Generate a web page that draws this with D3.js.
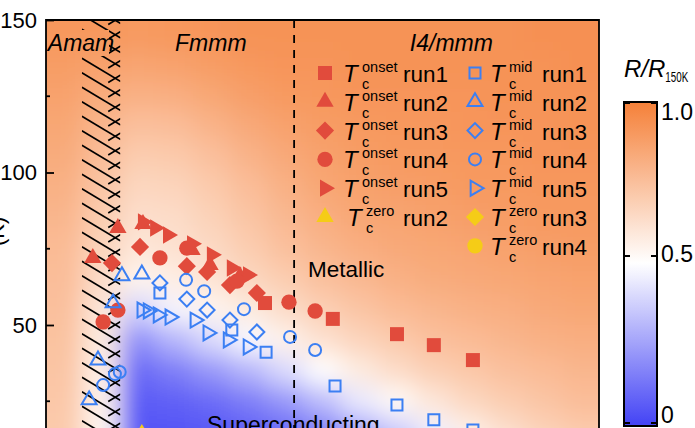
<!DOCTYPE html>
<html>
<head>
<meta charset="utf-8">
<script src="https://cdn.jsdelivr.net/npm/d3@7"></script>
<style>
  body { margin: 0; background: #fff; }
  svg { display: block; font-family: "Liberation Sans", Arial, sans-serif; }
</style>
</head>
<body>
<div id="chart"></div>
<script>
// Tc points, [x, T(K)]
var onsetRun1 = [[5.94,57.2],[7.78,52.0],[9.52,47.0],[10.52,43.4],[11.58,38.5]];
var onsetRun2 = [[1.27,72.0],[1.95,81.8],[2.63,83.1],[3.96,74.6],[4.45,69.7],[5.26,66.1]];
var onsetRun3 = [[1.79,70.3],[2.55,75.6],[3.82,69.3],[4.37,67.4],[4.99,63.1],[5.72,60.5]];
var onsetRun4 = [[1.55,51.0],[1.95,54.9],[3.09,72.0],[3.82,75.2],[5.18,64.4],[6.59,57.5],[7.30,54.6]];
var onsetRun5 = [[2.63,83.8],[2.96,81.8],[3.31,79.5],[3.96,76.6],[4.50,73.0],[5.04,68.7],[5.48,66.4]];

var midRun1 = [[3.09,60.5],[5.04,48.4],[5.97,41.1],[7.84,30.0],[9.52,23.8],[10.52,18.9],[11.58,15.6]];
var midRun2 = [[2.06,66.1],[2.60,66.7],[1.82,57.2],[1.41,38.5],[1.17,25.4]];
var midRun3 = [[3.09,63.8],[3.82,58.5],[4.37,54.9],[4.99,51.6],[5.72,47.7]];
var midRun4 = [[3.80,64.8],[4.29,61.1],[5.37,55.2],[6.62,46.1],[7.30,41.8],[1.55,30.3],[1.87,33.9],[2.00,34.6]];
var midRun5 = [[2.60,54.9],[2.77,54.6],[3.04,53.3],[3.36,52.6],[4.04,51.6],[4.39,47.4],[4.94,45.1],[5.48,42.8]];

var zeroRun2 = [[2.60,14.3]];
var zeroRun3 = [];
var zeroRun4 = [];

// R/R150K map: rows are 10 K bands (top first), columns are 1-unit x bands
var xBands = [0,1,2,3,4,5,6,7,8,9,10,11,12,13,14];
var tBands = [140,130,120,110,100,90,80,70,60,50,40,30,20,10,0];
var rRatio = [
  [0.91,0.91,0.90,0.91,0.92,0.93,0.93,0.93,0.93,0.93,0.93,0.93,0.93,0.94,0.94],
  [0.89,0.87,0.86,0.87,0.89,0.91,0.92,0.92,0.93,0.93,0.93,0.93,0.93,0.93,0.94],
  [0.87,0.83,0.81,0.82,0.85,0.88,0.90,0.91,0.92,0.92,0.92,0.92,0.93,0.93,0.93],
  [0.85,0.79,0.75,0.76,0.80,0.84,0.87,0.89,0.90,0.91,0.91,0.92,0.92,0.92,0.93],
  [0.83,0.76,0.70,0.71,0.75,0.80,0.84,0.87,0.89,0.90,0.90,0.91,0.91,0.92,0.92],
  [0.81,0.73,0.66,0.67,0.71,0.76,0.81,0.85,0.87,0.88,0.89,0.90,0.90,0.91,0.91],
  [0.79,0.70,0.63,0.64,0.68,0.73,0.78,0.82,0.85,0.86,0.87,0.88,0.89,0.90,0.90],
  [0.77,0.67,0.60,0.62,0.65,0.70,0.75,0.79,0.82,0.84,0.85,0.86,0.87,0.88,0.89],
  [0.76,0.64,0.54,0.57,0.61,0.66,0.70,0.75,0.78,0.81,0.83,0.84,0.85,0.86,0.87],
  [0.75,0.60,0.38,0.47,0.54,0.58,0.64,0.69,0.73,0.77,0.79,0.81,0.82,0.84,0.85],
  [0.74,0.58,0.20,0.30,0.40,0.48,0.55,0.62,0.67,0.71,0.75,0.77,0.79,0.81,0.82],
  [0.73,0.56,0.10,0.15,0.22,0.30,0.40,0.50,0.58,0.64,0.69,0.72,0.75,0.77,0.79],
  [0.72,0.55,0.06,0.07,0.10,0.15,0.22,0.32,0.44,0.52,0.60,0.66,0.70,0.73,0.76],
  [0.71,0.54,0.04,0.04,0.05,0.07,0.10,0.16,0.25,0.36,0.46,0.56,0.63,0.68,0.71],
  [0.71,0.54,0.03,0.03,0.04,0.05,0.06,0.08,0.12,0.20,0.30,0.40,0.52,0.60,0.65]
];

var yTicks = [50,100,150];
var yMinor = [25,75,125];
var cbTicks = [0,0.5,1];
var cbLabels = ["0","0.5","1.0"];

var phaseBounds = [1, 2, 6.73];   // hatch from..to, dashed line
var phases = [{name:"Amam", x:0.05}, {name:"Fmmm", x:3.5}, {name:"I4/mmm", x:9.87}];

var series = [
  {kind:"onset", run:"run1", shape:"square",   data:onsetRun1},
  {kind:"onset", run:"run2", shape:"triangle", data:onsetRun2},
  {kind:"onset", run:"run3", shape:"diamond",  data:onsetRun3},
  {kind:"onset", run:"run4", shape:"circle",   data:onsetRun4},
  {kind:"onset", run:"run5", shape:"right",    data:onsetRun5},
  {kind:"zero",  run:"run2", shape:"triangle", data:zeroRun2},
  {kind:"mid",   run:"run1", shape:"square",   data:midRun1},
  {kind:"mid",   run:"run2", shape:"triangle", data:midRun2},
  {kind:"mid",   run:"run3", shape:"diamond",  data:midRun3},
  {kind:"mid",   run:"run4", shape:"circle",   data:midRun4},
  {kind:"mid",   run:"run5", shape:"right",    data:midRun5},
  {kind:"zero",  run:"run3", shape:"diamond",  data:zeroRun3},
  {kind:"zero",  run:"run4", shape:"circle",   data:zeroRun4}
];

var kindStyle = {
  onset: {color:"#e14b3c", filled:true},
  mid:   {color:"#3b7ff3", filled:false},
  zero:  {color:"#f5cc17", filled:true}
};

var W = 695, H = 428;
var x = d3.scaleLinear().domain([0,15]).range([46,599]);
var y = d3.scaleLinear().domain([0,150]).range([477.5,20]);
var heatColor = d3.scaleLinear().domain([0,0.5,1]).range(["#4646f5","#ffffff","#f5813a"]);

var svg = d3.select("#chart").append("svg").attr("width",W).attr("height",H);
var defs = svg.append("defs");

defs.append("clipPath").attr("id","plotClip").append("rect")
  .attr("x",x(0)).attr("y",y(150)).attr("width",x(15)-x(0)).attr("height",H);

defs.append("filter").attr("id","soft")
  .attr("filterUnits","userSpaceOnUse")
  .attr("x",-100).attr("y",-100).attr("width",900).attr("height",800)
  .append("feGaussianBlur").attr("stdDeviation",12);

// heat map
var cells = [];
tBands.forEach(function(t0, r){
  xBands.forEach(function(x0, c){
    cells.push({
      x0: c === 0 ? -3 : x0,
      x1: c === xBands.length-1 ? 18 : x0+1,
      t0: r === tBands.length-1 ? -30 : t0,
      t1: r === 0 ? 180 : t0+10,
      v: rRatio[r][c]
    });
  });
});

svg.append("g").attr("clip-path","url(#plotClip)")
  .append("g").attr("filter","url(#soft)")
  .selectAll("rect").data(cells).join("rect")
  .attr("x", d => x(d.x0))
  .attr("y", d => y(d.t1))
  .attr("width", d => x(d.x1)-x(d.x0)+0.5)
  .attr("height", d => y(d.t0)-y(d.t1)+0.5)
  .attr("fill", d => heatColor(d.v));

// hatched two-phase strip
defs.append("clipPath").attr("id","hatchClip").append("rect")
  .attr("x",x(phaseBounds[0])-1).attr("y",y(150)).attr("width",x(phaseBounds[1])-x(phaseBounds[0])+1.5).attr("height",H);
var mask = defs.append("mask").attr("id","textMask").attr("maskUnits","userSpaceOnUse")
  .attr("x",0).attr("y",0).attr("width",W).attr("height",H);
mask.append("rect").attr("width",W).attr("height",H).attr("fill","#fff");
mask.append("rect").attr("x",78).attr("y",30).attr("width",31).attr("height",26).attr("fill","#000");

var hatch = svg.append("g").attr("clip-path","url(#hatchClip)").attr("mask","url(#textMask)")
  .attr("stroke","#000").attr("stroke-width",1.7);
var hx0 = x(phaseBounds[0])-1, hx1 = x(phaseBounds[1])+1, xc = hx1-5.5;
d3.range(-4,32).forEach(function(k){
  var yc = 78.3 + 14.5*k;
  hatch.append("line")
    .attr("x1",hx0).attr("y1",yc-0.6*(xc-hx0))
    .attr("x2",hx1).attr("y2",yc+0.6*(hx1-xc));
  hatch.append("line")
    .attr("x1",xc-7).attr("y1",yc+0.6*7)
    .attr("x2",hx1).attr("y2",yc-0.6*(hx1-xc));
});

// dashed phase boundary
svg.append("line")
  .attr("x1",x(phaseBounds[2])).attr("x2",x(phaseBounds[2]))
  .attr("y1",y(150)).attr("y2",H)
  .attr("stroke","#000").attr("stroke-width",1.8).attr("stroke-dasharray","8,7");

// symbols
function symbolPath(shape, filled){
  var s;
  if (shape === "square")   s = filled ? 196 : 121;
  if (shape === "circle")   s = filled ? 185 : 113;
  if (shape === "diamond")  s = filled ? 165 : 112;
  if (shape === "triangle" || shape === "right") s = filled ? 130 : 97;
  var type = {square:d3.symbolSquare, diamond:d3.symbolSquare, circle:d3.symbolCircle,
              triangle:d3.symbolTriangle, right:d3.symbolTriangle}[shape];
  return d3.symbol().type(type).size(s)();
}
function symbolRotate(shape){
  return shape === "diamond" ? 45 : shape === "right" ? 90 : 0;
}
function drawMarks(g, d, px, py){
  var st = kindStyle[d.kind];
  return g.append("path")
    .attr("d", symbolPath(d.shape, st.filled))
    .attr("transform", "translate(" + px + "," + py + ") rotate(" + symbolRotate(d.shape) + ")")
    .attr("fill", st.filled ? st.color : "none")
    .attr("stroke", st.filled ? "none" : st.color)
    .attr("stroke-width", st.filled ? 0 : 2);
}

var marks = svg.append("g").attr("clip-path","url(#plotClip)");
["onset","mid","zero"].forEach(function(kind){
  series.filter(s => s.kind === kind).forEach(function(s){
    s.data.forEach(function(p){ drawMarks(marks, s, x(p[0]), y(p[1])); });
  });
});

// frame and axis
svg.append("path")
  .attr("d", "M" + x(0) + "," + H + "V" + y(150) + "H" + x(15) + "V" + H)
  .attr("fill","none").attr("stroke","#000").attr("stroke-width",1.8);

var yAxis = svg.append("g").attr("transform","translate(" + x(0) + ",0)")
  .call(d3.axisLeft(y).tickValues(yTicks).tickSize(-8).tickPadding(9));
yAxis.select(".domain").remove();
yAxis.selectAll("line").attr("stroke-width",1.8);
yAxis.selectAll("text").attr("font-size",22).attr("fill","#000")
  .attr("font-family","'Liberation Sans', Arial, sans-serif");
svg.append("g").selectAll("line").data(yMinor).join("line")
  .attr("x1",x(0)).attr("x2",x(0)+4).attr("y1",d => y(d)).attr("y2",d => y(d))
  .attr("stroke","#000").attr("stroke-width",1.8);

svg.append("text").attr("transform","translate(4,246) rotate(-90)")
  .attr("font-size",22).text("(K)");

// phase labels
svg.selectAll(".phase").data(phases).join("text")
  .attr("x", d => x(d.x)).attr("y", 51)
  .attr("font-size",23).attr("font-style","italic").text(d => d.name);

svg.append("text").attr("x",308).attr("y",277).attr("font-size",22.5).text("Metallic");
svg.append("text").attr("x",207).attr("y",433).attr("font-size",23).text("Superconducting");

// legend
var col1 = series.filter(s => s.kind === "onset" || (s.kind === "zero" && s.run === "run2"));
var col2 = series.filter(s => s.kind === "mid" || (s.kind === "zero" && s.run !== "run2"));
var legend = svg.append("g");
[[col1, 325, 343, 403], [col2, 475, 490, 542]].forEach(function(cfg, ci){
  cfg[0].forEach(function(s, i){
    var ry = 73 + 28.8*i;
    var tx = cfg[2] + (ci === 0 && s.kind === "zero" ? 4 : 0);
    drawMarks(legend, s, cfg[1], ry);
    legend.append("text").attr("x",tx).attr("y",ry+9).attr("font-size",24)
      .attr("font-style","italic").text("T");
    legend.append("text").attr("x",tx+19).attr("y",ry-1).attr("font-size",14.5).text(s.kind);
    legend.append("text").attr("x",tx+19).attr("y",ry+16).attr("font-size",14.5).text("c");
    legend.append("text").attr("x",cfg[3]).attr("y",ry+9).attr("font-size",22.5).text(s.run);
  });
});

// colour bar
var cb = d3.scaleLinear().domain([0,0.5,1]).range([423,256,103]);
var grad = defs.append("linearGradient").attr("id","cbGrad")
  .attr("gradientUnits","userSpaceOnUse").attr("x1",0).attr("x2",0).attr("y1",cb(0)).attr("y2",cb(1));
d3.range(0,1.0001,0.05).forEach(function(v){
  grad.append("stop").attr("offset",v).attr("stop-color",heatColor(v));
});
var cbX = 624, cbW = 33;
svg.append("rect").attr("x",cbX).attr("y",cb(1)-1).attr("width",cbW).attr("height",cb(0)-cb(1)+4)
  .attr("fill","url(#cbGrad)").attr("stroke","#000").attr("stroke-width",2);
svg.append("g").selectAll("path").data(cbTicks).join("path")
  .attr("d", d => "M" + cbX + "," + cb(d) + "h6M" + (cbX+cbW) + "," + cb(d) + "h-6")
  .attr("stroke","#000").attr("stroke-width",2);
svg.append("g").selectAll("text").data(cbTicks).join("text")
  .attr("x", cbX+cbW+4).attr("y", d => cb(d))
  .attr("dominant-baseline", d => d === 1 ? "hanging" : d === 0 ? "auto" : "middle")
  .attr("font-size",23).text((d,i) => cbLabels[i]);

var title = svg.append("text").attr("x",624).attr("y",77);
title.append("tspan").attr("font-size",24).attr("font-style","italic").text("R/R");
title.append("tspan").attr("font-size",15).attr("dy",5)
  .attr("textLength",23).attr("lengthAdjust","spacingAndGlyphs").text("150K");
</script>
</body>
</html>
